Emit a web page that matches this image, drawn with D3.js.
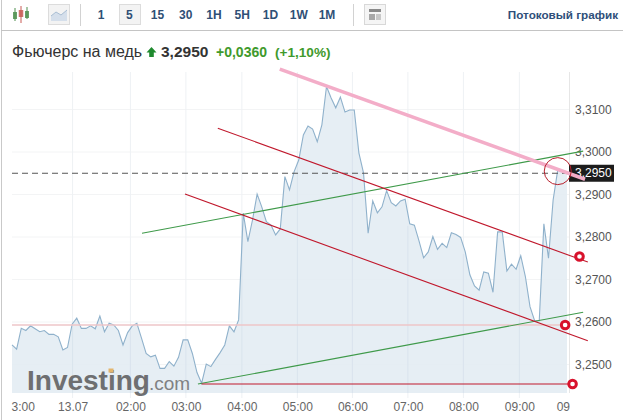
<!DOCTYPE html>
<html><head><meta charset="utf-8">
<script src="https://cdn.jsdelivr.net/npm/d3@7"></script>
<style>html,body{margin:0;padding:0;background:#fff}svg{display:block;font-family:"Liberation Sans",Arial,sans-serif}</style>
</head><body><svg id="c" width="623" height="420"></svg>
<script>
const prices=[3.2546,3.2536,3.2585,3.2580,3.2591,3.2584,3.2577,3.2580,3.2571,3.2571,3.2565,3.2534,3.2540,3.2595,3.2609,3.2585,3.2585,3.2591,3.2584,3.2614,3.2577,3.2597,3.2593,3.2580,3.2546,3.2575,3.2591,3.2597,3.2562,3.2526,3.2518,3.2522,3.2491,3.2491,3.2507,3.2496,3.2517,3.2558,3.2558,3.2526,3.2481,3.2456,3.2501,3.2495,3.2512,3.2528,3.2546,3.2591,3.2577,3.2605,
3.2856,3.2789,3.2840,3.2901,3.2871,3.2836,3.2828,3.2805,3.2819,3.2942,3.2911,3.2954,3.2981,3.3040,3.3061,3.3054,3.3024,3.3064,3.3154,3.3127,3.3104,3.3129,3.3094,3.3099,3.3099,3.2998,3.2951,3.2809,3.2885,3.2857,3.2871,3.2909,3.2881,3.2873,3.2885,3.2889,3.2831,3.2828,3.2791,
3.2751,3.2765,3.2801,3.2771,3.2785,3.2775,3.2810,3.2806,3.2799,3.2765,3.2711,3.2685,3.2675,3.2718,3.2715,3.2670,3.2812,3.2812,3.2720,3.2736,3.2724,3.2756,3.2707,3.2636,3.2603,3.2603,3.2831,3.2750,3.2887,3.2958,3.2953,3.2950];
const lastPrice=3.2950;
const yTicks=[3.31,3.30,3.29,3.28,3.27,3.26,3.25];
const xTickIdx=[2.3,13.1,25.6,37.6,49.7,61.7,73.6,85.6,97.6,109.7,119.1];
const xTickLabels=["3:00","13.07","02:00","03:00","04:00","05:00","06:00","07:00","08:00","09:00","09"];
const xGridIdx=[13.1,25.6,37.6,49.7,61.7,73.6,85.6,97.6,109.7];
const intervals=["1","5","15","30","1H","5H","1D","1W","1M"];
const pinkLine=[[57.9,3.3195],[123.9,3.2936]];
const greenLines=[[[28.1,3.2809],[123.5,3.3002]],[[40.2,3.2454],[123.5,3.2623]]];
const redLines=[[[44.5,3.3056],[124.5,3.2741]],[[37.4,3.2901],[124.5,3.2556]],[[41,3.2454],[121.3,3.2454]]];
const softLine=[[0,3.2593],[119.7,3.2593]];
const handles=[[119.6,3.2593],[121.2,3.2454],[122.7,3.2754]];
const ring=[118,3.2955];

const svg=d3.select("#c");
const x=d3.scaleLinear().domain([0,120]).range([12,567]);
const y=d3.scaleLinear().domain([3.30,3.25]).range([152,364.5]);
const bottom=393,right=569;

// frame
svg.append("rect").attr("x",1).attr("y",0).attr("width",1).attr("height",420).attr("fill","#c9c9c9");
svg.append("rect").attr("x",1).attr("y",30).attr("width",622).attr("height",1).attr("fill","#c4c4c4");

// toolbar
const tb=svg.append("g");
[[15,11,4,"#4f8f4f",8,21],[21,9,4.5,"#c95a55",6,23],[27,10,4,"#4f8f4f",7,19]].forEach(([cx,top,w,col,a,b])=>{
  tb.append("line").attr("x1",cx).attr("x2",cx).attr("y1",a).attr("y2",b).attr("stroke",col).attr("stroke-width",1);
  tb.append("rect").attr("x",cx-w/2).attr("y",top+1).attr("width",w).attr("height",7).attr("fill",col).attr("opacity",.85);
});
tb.append("rect").attr("x",48.5).attr("y",4.5).attr("width",21).attr("height",20).attr("fill","#f3f3f3").attr("stroke","#dcdcdc");
tb.append("path").attr("d","M51 21V16L56 12L61 15L67 10V21Z").attr("fill","#d5dfeb");
tb.append("path").attr("d","M51 16L56 12L61 15L67 10").attr("fill","none").attr("stroke","#a9bed3");
tb.append("rect").attr("x",80).attr("y",4).attr("width",1).attr("height",22).attr("fill","#d2d2d2");
tb.append("rect").attr("x",119.5).attr("y",4.5).attr("width",21).attr("height",20).attr("fill","#f3f3f3").attr("stroke","#dcdcdc");
const tbX=d3.scalePoint().domain(intervals).range([101,327]);
tb.selectAll("text.i").data(intervals).join("text").attr("class","i")
  .attr("x",d=>tbX(d)).attr("y",19).attr("text-anchor","middle")
  .attr("font-size",12).attr("font-weight","bold").attr("fill","#2f4f75").text(d=>d);
tb.append("rect").attr("x",353).attr("y",4).attr("width",1).attr("height",22).attr("fill","#d2d2d2");
tb.append("rect").attr("x",364.5).attr("y",4.5).attr("width",21).attr("height",20).attr("fill","#f5f5f5").attr("stroke","#d8d8d8");
tb.append("rect").attr("x",369).attr("y",9).attr("width",12).attr("height",3).attr("fill","#8a8a8a");
tb.append("rect").attr("x",369).attr("y",14).attr("width",6).attr("height",6).attr("fill","#a8a8a8");
tb.append("rect").attr("x",376).attr("y",14).attr("width",5).attr("height",6).attr("fill","#c8c8c8");
tb.append("text").attr("x",618).attr("y",19).attr("text-anchor","end").attr("font-size",11.7).attr("font-weight","bold").attr("fill","#2f4f7a").text("Потоковый график");

// title
const t=svg.append("g");
t.append("text").attr("x",12).attr("y",57).attr("font-size",16).attr("fill","#333").text("Фьючерс на медь");
t.append("path").attr("d","M151.5 47L156.5 52.5H153.8V57H149.2V52.5H146.5Z").attr("fill","#1f8a2e");
t.append("text").attr("x",161).attr("y",57).attr("font-size",15.5).attr("font-weight","bold").attr("fill","#333").text("3,2950");
t.append("text").attr("x",216).attr("y",57).attr("font-size",14).attr("font-weight","bold").attr("fill","#3f9a2c").text("+0,0360");
t.append("text").attr("x",275).attr("y",57).attr("font-size",13.6).attr("font-weight","bold").attr("fill","#3f9a2c").text("(+1,10%)");

// grid
svg.append("g").selectAll("line").data(yTicks).join("line")
  .attr("x1",12).attr("x2",right).attr("y1",d=>y(d)).attr("y2",d=>y(d)).attr("stroke","#f3f4f5");
svg.append("g").selectAll("line").data(xGridIdx).join("line")
  .attr("x1",d=>x(d)).attr("x2",d=>x(d)).attr("y1",72).attr("y2",bottom+5).attr("stroke","#eef1f4");

// area + line
svg.append("path").datum(prices).attr("fill","#e3ecf3").attr("opacity",.9)
  .attr("d",d3.area().x((d,i)=>x(i)).y0(bottom).y1(d=>y(d)));
svg.selectAll("line.g2").data(xGridIdx).join("line").attr("class","g2")
  .attr("x1",d=>x(d)).attr("x2",d=>x(d)).attr("y1",d=>y(prices[Math.round(d)])+2).attr("y2",bottom).attr("stroke","#d9e4ed");
svg.append("path").datum(prices).attr("fill","none").attr("stroke","#8fb1cb").attr("stroke-width",1.1)
  .attr("d",d3.line().x((d,i)=>x(i)).y(d=>y(d)));
svg.append("rect").attr("x",right).attr("y",72).attr("width",1).attr("height",bottom-72).attr("fill","#e6e6e6");

// logo
const logo=svg.append("g");
logo.append("text").attr("x",27).attr("y",390).attr("font-size",28).attr("font-weight","bold").attr("fill","#6e6f71").text("Investing");
logo.append("text").attr("x",149).attr("y",390).attr("font-size",19).attr("fill","#808183").text(".com");
logo.append("rect").attr("x",108.5).attr("y",368.5).attr("width",5).attr("height",4).attr("fill","#e3b56d");

// axes
const yAxis=svg.append("g").attr("transform",`translate(${right},0)`)
  .call(d3.axisRight(y).tickValues(yTicks).tickSize(0).tickPadding(6).tickFormat(d=>d.toFixed(4).replace(".",",")));
yAxis.select(".domain").remove();
yAxis.selectAll("text").attr("font-size",12).attr("font-family","'Liberation Sans',Arial,sans-serif").attr("fill","#555");
const xAxis=svg.append("g").attr("transform",`translate(0,${bottom})`)
  .call(d3.axisBottom(x).tickValues(xTickIdx).tickSize(0).tickPadding(9).tickFormat((d,i)=>xTickLabels[i]));
xAxis.select(".domain").remove();
xAxis.selectAll("text").attr("font-size",12).attr("font-family","'Liberation Sans',Arial,sans-serif").attr("fill","#666");

// last price
svg.append("line").attr("x1",12).attr("x2",right).attr("y1",y(lastPrice)).attr("y2",y(lastPrice))
  .attr("stroke","#555").attr("stroke-dasharray","6,4");
svg.append("rect").attr("x",right).attr("y",y(lastPrice)-8.5).attr("width",45).attr("height",17).attr("fill","#1c1c1c");
svg.append("text").attr("x",575).attr("y",y(lastPrice)+4).attr("font-size",12).attr("fill","#fff").text(lastPrice.toFixed(4).replace(".",","));

// drawings
const seg=(pts,col,w)=>svg.append("line").attr("x1",x(pts[0][0])).attr("y1",y(pts[0][1])).attr("x2",x(pts[1][0])).attr("y2",y(pts[1][1])).attr("stroke",col).attr("stroke-width",w);
seg(softLine,"#eec6c8",1.6);
greenLines.forEach(l=>seg(l,"#3f9a4a",1.1));
redLines.forEach(l=>seg(l,"#c0182c",1.1));
seg(pinkLine,"#f3adc8",3.6);
svg.append("circle").attr("cx",x(ring[0])).attr("cy",y(ring[1])).attr("r",13.5).attr("fill","none").attr("stroke","#b8202c").attr("stroke-width",1);
svg.selectAll("circle.h").data(handles).join("circle").attr("class","h")
  .attr("cx",d=>x(d[0])).attr("cy",d=>y(d[1])).attr("r",3.8).attr("fill","#fff").attr("stroke","#d8122c").attr("stroke-width",3);
</script></body></html>
